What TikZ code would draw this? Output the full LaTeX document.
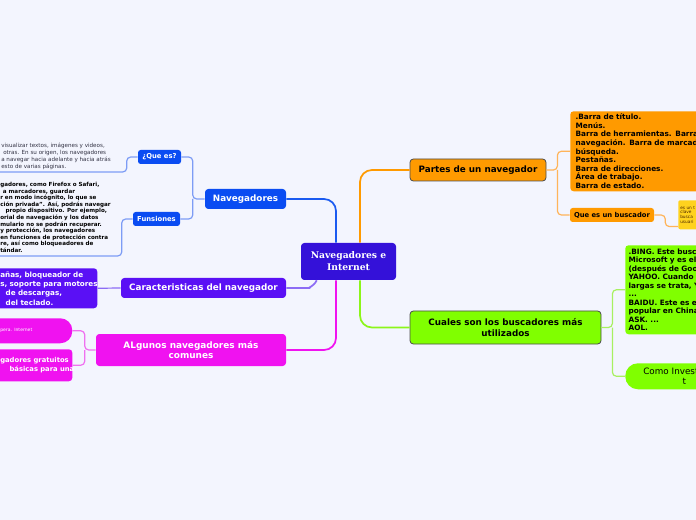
\documentclass[tikz,border=0pt]{standalone}
\usepackage{fontspec}
\setmainfont{DejaVu Sans}
\newfontfamily\rootfont{DejaVu Serif}
\usetikzlibrary{calc}

\definecolor{bgcol}{HTML}{F3F5FE}
\definecolor{rootcol}{HTML}{3411D9}
\definecolor{navblue}{HTML}{0A4CF2}
\definecolor{navline}{HTML}{1A5AF0}
\definecolor{navsub}{HTML}{7D9CF5}
\definecolor{purp}{HTML}{5A10F5}
\definecolor{purpline}{HTML}{8C6CF5}
\definecolor{mag}{HTML}{F012F0}
\definecolor{magline}{HTML}{F070F0}
\definecolor{orng}{HTML}{FF9A00}
\definecolor{orngline}{HTML}{FFB45A}
\definecolor{lime}{HTML}{80FF00}
\definecolor{limemain}{HTML}{8CF51A}
\definecolor{limeline}{HTML}{A8F060}
\definecolor{yel}{HTML}{FFD21E}
\definecolor{txtgray}{HTML}{333344}

\newcommand\pxu{0.75pt}
\newcommand\cutline[2]{\makebox[0pt][l]{\hspace*{#1}#2}}

\begin{document}
\begin{tikzpicture}[x=0.75pt,y=-0.75pt,
    every node/.style={inner sep=0pt},
    rootbox/.style={fill=rootcol, rounded corners=2.5pt, text=white, align=center,
        font=\rootfont\bfseries\fontsize{6.9}{9}\selectfont},
    topic/.style={rounded corners=2.5pt, text=white, align=center,
        font=\bfseries\fontsize{6.6}{8}\selectfont},
    subtopic/.style={rounded corners=2pt, text=white, align=center,
        font=\bfseries\fontsize{5.1}{6}\selectfont},
    darktopic/.style={rounded corners=2.5pt, draw=black!70, line width=0.6pt, align=center,
        font=\bfseries\fontsize{6.6}{7.6}\selectfont},
    notebox/.style={rounded corners=2.5pt, anchor=north west, align=left},
    mainlink/.style={line width=1.3pt, rounded corners=9pt},
    sublink/.style={line width=0.9pt, rounded corners=3pt}]

    % we fix the canvas and the background
    \useasboundingbox (0,0) rectangle (696,520);
    \fill[bgcol] (0,0) rectangle (696,520);
    \clip (0,0) rectangle (696,520);

    % centre node
    \node[rootbox, minimum width=95*\pxu, minimum height=37*\pxu] (root) at (348.5,261.5) {Navegadores e\\Internet};

    % left side: navegadores
    \node[topic, fill=navblue, minimum width=81*\pxu, minimum height=20*\pxu] (nav) at (245.5,199) {Navegadores};
    \node[subtopic, fill=navblue, minimum width=43*\pxu, minimum height=14*\pxu] (quees) at (159.5,157) {¿Que es?};
    \node[subtopic, fill=navblue, minimum width=47*\pxu, minimum height=14*\pxu] (funs) at (156.5,219) {Funsiones};
    \node[anchor=north west, align=left, text=txtgray, font=\fontsize{4.2}{5.25}\selectfont] (queestxt) at (1,143)
        {visualizar textos, imágenes y videos,\\ \hspace*{1.5pt}otras. En su origen, los navegadores\\a navegar hacia adelante y hacia atrás\\esto de varias páginas.};
    \node[anchor=north west, align=left, text=black, font=\bfseries\fontsize{4.2}{4.95}\selectfont] (funstxt) at (0,182)
        {gadores, como Firefox o Safari,\\ \hspace*{2pt}a marcadores, guardar\\r en modo incógnito, lo que se\\ción privada". Así, podrás navegar\\ \hspace*{4pt}propio dispositivo. Por ejemplo,\\orial de navegación y los datos\\mulario no se podrán recuperar.\\y protección, los navegadores\\en funciones de protección contra\\re, así como bloqueadores de\\tándar.};
    \coordinate (queend) at (-5,172);
    \coordinate (funsend) at (-5,256);

    % left side: caracteristicas
    \node[topic, fill=purp, minimum width=165*\pxu, minimum height=20*\pxu] (caract) at (203.5,288) {Caracteristicas del navegador};
    \node[notebox, fill=purp, text=white, text width=117*\pxu, minimum height=40*\pxu,
        font=\bfseries\fontsize{5.4}{7}\selectfont] (caracttxt) at (-20,268)
        {\cutline{15pt}{añas, bloqueador de}\\\cutline{15pt}{s, soporte para motores}\\\cutline{19pt}{de descargas,}\\\cutline{19pt}{del teclado.}};

    % left side: algunos navegadores
    \node[topic, fill=mag, minimum width=190*\pxu, minimum height=32*\pxu, font=\bfseries\fontsize{6.7}{8.2}\selectfont] (algunos) at (191,350) {ALgunos navegadores más\\comunes};
    \node[notebox, fill=mag, text=white, rounded corners=9pt, text width=92*\pxu, minimum height=25*\pxu,
        font=\fontsize{3.4}{4}\selectfont] (alg1) at (-20,318)
        {\cutline{15pt}{pera. Internet}\\[9pt]};
    \node[notebox, fill=mag, text=white, text width=92*\pxu, minimum height=32*\pxu,
        font=\bfseries\fontsize{5.1}{6.8}\selectfont] (alg2) at (-20,349)
        {\cutline{15pt}{gadores gratuitos}\\\cutline{22pt}{básicas para una}};

    % right side: partes de un navegador
    \node[darktopic, fill=orng, minimum width=136*\pxu, minimum height=22*\pxu] (partes) at (478,170) {Partes de un navegador};
    \node[notebox, fill=orng, text width=150*\pxu, minimum height=80*\pxu,
        font=\bfseries\fontsize{5.5}{6.45}\selectfont] (barras) at (570,111)
        {\cutline{4pt}{.Barra de título.}\\\cutline{4pt}{Menús.}\\\cutline{4pt}{Barra de herramientas. Barra de}\\\cutline{4pt}{navegación. Barra de marcadores}\\\cutline{4pt}{búsqueda.}\\\cutline{4pt}{Pestañas.}\\\cutline{4pt}{Barra de direcciones.}\\\cutline{4pt}{Área de trabajo.}\\\cutline{4pt}{Barra de estado.}};
    \node[subtopic, fill=orng, text=black, minimum width=84*\pxu, minimum height=14*\pxu] (buscador) at (612,215) {Que es un buscador};
    \node[notebox, fill=yel, text=black!70!orange, text width=40*\pxu, minimum height=29*\pxu, rounded corners=1.5pt,
        font=\fontsize{3.2}{3.5}\selectfont] (buscatxt) at (678,200)
        {\cutline{1.5pt}{es un t}\\\cutline{1.5pt}{clave}\\\cutline{1.5pt}{busca}\\\cutline{1.5pt}{usuari}};

    % right side: buscadores
    \node[darktopic, fill=lime, minimum width=191*\pxu, minimum height=33*\pxu] (cuales) at (505.5,327.5) {Cuales son los buscadores más\\utilizados};
    \node[notebox, fill=lime, text width=90*\pxu, minimum height=89*\pxu,
        font=\bfseries\fontsize{5.5}{6.4}\selectfont] (bing) at (625,245)
        {\cutline{2.5pt}{.BING. Este buscador}\\\cutline{2.5pt}{Microsoft y es el se}\\\cutline{2.5pt}{(después de Google}\\\cutline{2.5pt}{YAHOO. Cuando de}\\\cutline{2.5pt}{largas se trata, Ya}\\\cutline{2.5pt}{...}\\\cutline{2.5pt}{BAIDU. Este es el}\\\cutline{2.5pt}{popular en China.}\\\cutline{2.5pt}{ASK. ...}\\\cutline{2.5pt}{AOL.}};
    \node[notebox, fill=lime, text width=90*\pxu, minimum height=26*\pxu, rounded corners=9.5pt,
        font=\fontsize{6.6}{8}\selectfont] (como) at (625,363)
        {\cutline{13.5pt}{Como Invest}\\\cutline{43pt}{t}};

    % we draw the main branches
    \draw[mainlink, navline] (nav.east) -| ($(root.north)+(-12.5,0)$);
    \draw[mainlink, orng] ($(root.north)+(11.5,0)$) |- (partes.west);
    \draw[mainlink, mag] ($(root.south)+(-12.5,0)$) |- (algunos.east);
    \draw[mainlink, limemain] ($(root.south)+(11.5,0)$) |- (cuales.west);
    \draw[mainlink, purpline] (caract.east) -- ++(12,0) to[out=0,in=-115] ($(root.south west)+(16,0)$);

    % we draw the sub branches
    \draw[sublink, navsub] (nav.west) -- ++(-12,0) coordinate (navfork) |- (quees.east);
    \draw[sublink, navsub] (navfork) |- (funs.east);
    \draw[sublink, navsub] (quees.west) -- ++(-11,0) |- (queend);
    \draw[sublink, navsub] (funs.west) -- ++(-11,0) |- (funsend);
    \draw[sublink, purpline] (caract.west) -- (caracttxt.east);
    \draw[sublink, magline] (algunos.west) -- ++(-11,0) coordinate (algfork) |- (alg1.east);
    \draw[sublink, magline] (algfork) |- (alg2.east);
    \draw[sublink, orngline] (partes.east) -- ++(11,0) coordinate (partfork) |- (barras.west);
    \draw[sublink, orngline] (partfork) |- (buscador.west);
    \draw[sublink, orngline] (buscador.east) -- ++(11,0) |- ($(buscatxt.south west)+(0,-3)$);
    \draw[sublink, limeline] (cuales.east) -- ++(11,0) coordinate (cualfork) |- (bing.west);
    \draw[sublink, limeline] (cualfork) |- (como.west);
\end{tikzpicture}
\end{document}
